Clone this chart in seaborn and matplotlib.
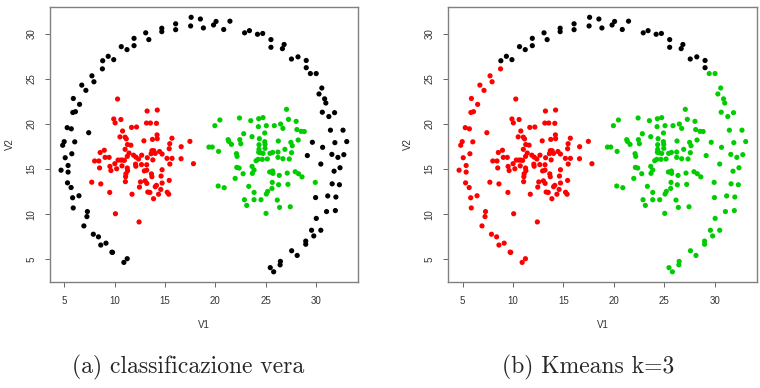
import matplotlib
matplotlib.use("Agg")
import matplotlib.pyplot as plt
import seaborn as sns
import pandas as pd

# ---- data ----
# outer ring, top part (k-means: cluster 1 / black)
ring_top_x = [8.8, 9.35, 9.9, 10.65, 11.22, 11.92, 11.92, 13.08, 13.39, 14.68, 14.68, 16.06, 16.06,
              17.6, 17.55, 18.52, 18.82, 19.83, 20.08, 20.84, 21.46, 22.92, 23.4, 24.2, 24.72,
              25.54, 25.54, 26.68, 26.85, 27.58, 28.23, 29.05, 29.05]
ring_top_y = [27.0, 27.49, 27.12, 28.56, 28.23, 29.48, 28.67, 30.09, 29.34, 30.6, 30.22, 31.09, 30.44,
              31.81, 30.85, 31.62, 30.63, 30.96, 31.35, 30.46, 31.38, 30.09, 30.33, 29.93, 30.02,
              29.34, 28.49, 28.34, 28.8, 27.19, 27.43, 27.03, 26.23]

# outer ring, left part (k-means: red)
ring_left_x = [8.77, 7.73, 7.93, 6.72, 7.13, 5.88, 6.5, 5.83, 6.09, 5.27, 5.68, 7.41, 4.97, 4.82, 6.02,
               5.73, 5.07, 5.36, 5.36, 4.66, 5.3, 5.66, 6.44, 5.81, 5.87, 7.28, 7.23, 6.93, 7.87,
               8.38, 8.61, 9.13, 9.78, 9.72, 10.91, 11.24]
ring_left_y = [26.1, 25.33, 24.67, 24.3, 23.72, 22.82, 22.17, 21.27, 21.36, 19.59, 19.46, 19.03, 18.04,
               17.64, 18.02, 16.7, 16.26, 15.4, 14.67, 14.88, 13.48, 12.96, 12.05, 11.83, 10.7, 10.3,
               9.74, 8.71, 7.79, 7.5, 6.59, 6.8, 5.78, 5.8, 4.67, 5.08]

# outer ring, right part (k-means: green)
ring_right_x = [29.46, 30.04, 30.6, 30.32, 30.88, 31.0, 30.65, 31.87, 31.3, 31.46, 32.71, 33.08, 31.9,
                29.66, 30.68, 29.16, 31.6, 32.2, 32.79, 30.5, 32.41, 31.82, 31.63, 32.35, 29.98,
                31.19, 32.0, 31.07, 31.95, 30.05, 29.58, 30.5, 29.8, 29.0, 29.0, 27.6, 28.15, 26.48,
                26.45, 25.47, 25.81]
ring_right_y = [25.58, 25.58, 23.98, 23.32, 22.78, 22.32, 21.3, 21.25, 20.82, 19.31, 19.31, 18.05, 17.93,
                17.97, 17.41, 16.5, 16.63, 16.3, 16.6, 15.56, 15.15, 14.77, 13.37, 13.27, 11.85,
                12.03, 11.91, 10.3, 10.41, 9.54, 8.23, 8.23, 7.6, 7.03, 6.68, 5.96, 5.44, 4.78,
                4.4, 4.09, 3.63]

# left inner cluster (red in both)
red_x = [10.28, 13.22, 14.23, 9.9, 10.61, 10.04, 13.16, 13.55, 14.15, 11.67, 12.17, 10.78, 10.52, 11.03,
         11.15, 14.21, 14.23, 13.75, 15.69, 17.48, 12.9, 11.27, 11.6, 15.47, 15.42, 16.61, 11.03, 11.42,
         8.96, 8.55, 13.7, 13.88, 14.46, 14.71, 13.62, 14.03, 9.04, 9.44, 8.0, 8.42, 10.33, 10.58,
         10.77, 10.96, 11.25, 11.87, 12.1, 12.37, 12.68, 13.79, 13.24, 15.2, 15.7, 16.6, 17.83, 8.49,
         9.52, 9.62, 10.01, 10.19, 10.72, 11.25, 11.28, 11.11, 11.08, 12.07, 12.1, 12.66, 13.18, 12.94,
         13.18, 13.65, 13.7, 14.71, 14.61, 15.48, 11.06, 12.56, 13.02, 13.19, 12.46, 14.15, 14.03,
         14.71, 15.42, 14.58, 13.29, 13.5, 14.36, 15.22, 15.37, 11.72, 9.5, 8.61, 7.71, 13.86, 10.07,
         12.42]
red_y = [22.76, 21.43, 21.54, 20.55, 20.49, 20.12, 20.1, 20.1, 20.07, 19.62, 19.66, 19.22, 18.57, 18.54,
         18.35, 18.79, 18.37, 18.29, 18.42, 18.07, 18.13, 17.72, 17.65, 17.81, 17.26, 17.48, 17.19, 16.78,
         17.09, 16.84, 17.04, 17.04, 16.95, 16.67, 16.71, 16.74, 16.3, 16.3, 15.9, 15.9, 16.0, 16.0,
         16.0, 15.97, 16.41, 16.54, 16.33, 16.12, 16.54, 16.02, 16.26, 16.19, 16.19, 16.15, 15.6, 15.13,
         15.3, 14.84, 15.6, 15.04, 15.36, 15.12, 14.82, 14.48, 14.16, 15.55, 15.32, 15.5, 15.48, 14.8,
         14.88, 14.47, 14.16, 14.93, 14.23, 15.56, 13.61, 13.58, 13.7, 13.42, 13.01, 13.2, 13.05,
         13.46, 13.75, 12.75, 12.46, 12.42, 12.22, 12.44, 12.22, 12.22, 12.42, 13.36, 13.55, 11.72, 10.06,
         9.15]

# right inner cluster (green in both)
green_x = [27.09, 20.46, 19.96, 22.41, 23.53, 24.32, 24.75, 27.29, 28.05, 24.29, 25.08, 25.87, 26.5, 26.73,
           28.12, 28.55, 28.86, 22.83, 23.66, 24.92, 21.28, 21.35, 21.61, 22.44, 22.54, 24.39, 24.92,
           24.95, 26.27, 27.52, 27.66, 28.25, 19.37, 19.7, 20.33, 24.35, 24.35, 24.49, 24.32, 24.75,
           24.95, 25.44, 25.71, 26.24, 26.93, 27.59, 22.11, 22.17, 24.06, 24.26, 24.68, 25.18, 26.24,
           26.73, 27.36, 22.14, 22.37, 23.66, 23.86, 22.77, 23.69, 21.98, 25.41, 25.71, 25.74, 26.37,
           27.16, 27.95, 28.28, 28.63, 20.29, 20.89, 23.33, 25.67, 26.3, 27.23, 23.86, 25.21, 25.08,
           25.64, 22.9, 23.86, 24.55, 26.17, 23.13, 26.4, 27.46, 25.05, 29.95]
green_y = [21.62, 20.44, 19.81, 20.66, 20.36, 20.58, 20.7, 20.51, 20.29, 19.7, 19.81, 19.81, 19.99, 19.51,
           19.38, 19.18, 19.16, 18.92, 18.59, 19.0, 18.26, 18.07, 17.74, 18.26, 17.81, 18.37, 18.04,
           17.74, 18.11, 17.96, 17.59, 18.22, 17.44, 17.44, 16.96, 17.7, 17.19, 16.82, 16.87, 16.74,
           17.3, 16.74, 16.85, 16.89, 17.19, 16.82, 16.71, 16.41, 15.93, 16.08, 16.08, 16.12, 16.3,
           16.15, 16.12, 15.19, 15.12, 15.3, 14.9, 14.49, 14.53, 13.97, 14.68, 14.79, 14.53, 14.3,
           14.56, 14.71, 14.49, 14.14, 13.13, 12.94, 13.09, 13.53, 13.27, 13.31, 12.42, 12.53, 12.24,
           12.86, 11.61, 11.61, 11.61, 11.57, 10.98, 10.76, 10.83, 10.1, 13.53]

x_ticks = [5, 10, 15, 20, 25, 30]
y_ticks = [5, 10, 15, 20, 25, 30]
captions = ["(a) classificazione vera", "(b) Kmeans k=3"]

# ---- table ----
groups = [
    (ring_top_x, ring_top_y, "1", "1"),
    (ring_left_x, ring_left_y, "1", "2"),
    (ring_right_x, ring_right_y, "1", "3"),
    (red_x, red_y, "2", "2"),
    (green_x, green_y, "3", "3"),
]
rows = []
for gx, gy, true_c, km_c in groups:
    for a, b in zip(gx, gy):
        rows.append({"V1": a, "V2": b, "vera": true_c, "kmeans": km_c})
df = pd.DataFrame(rows)

palette = {"1": "#000000", "2": "#FF0000", "3": "#00CD00"}

sns.set_style("white")
plt.rcParams["font.family"] = ["Liberation Sans", "DejaVu Sans"]

W, H = 760, 388
fig = plt.figure(figsize=(W / 100, H / 100), dpi=100)

boxes = [(50, 7, 308, 275), (448, 7, 309, 275)]
for (left, top, w, h), col, cap, cx in zip(boxes, ["vera", "kmeans"], captions, [188, 588]):
    ax = fig.add_axes([left / W, 1 - (top + h) / H, w / W, h / H])
    sns.scatterplot(data=df, x="V1", y="V2", hue=col, palette=palette, s=14,
                    linewidth=0, legend=False, ax=ax)
    ax.set_xlim(3.56, 34.2)
    ax.set_ylim(2.5, 32.95)
    ax.set_xticks(x_ticks)
    ax.set_yticks(y_ticks)
    ax.set_yticklabels([str(t) for t in y_ticks], rotation=90, va="center")
    ax.tick_params(axis="both", direction="out", length=3.6, width=0.7, colors="#666666",
                   labelcolor="#333333", labelsize=7, pad=6.3, bottom=True, left=True)
    ax.set_xlabel("V1", fontsize=7, color="#333333", labelpad=10)
    ax.set_ylabel("V2", fontsize=7, color="#333333", labelpad=8)
    for sp in ax.spines.values():
        sp.set_color("#808080")
        sp.set_linewidth(1.0)
    fig.text(cx / W, 1 - 367 / H, cap, ha="center", va="center", fontsize=17,
             family=["cmr10", "DejaVu Serif"])

fig.savefig("out.png", dpi=100, facecolor="white")
